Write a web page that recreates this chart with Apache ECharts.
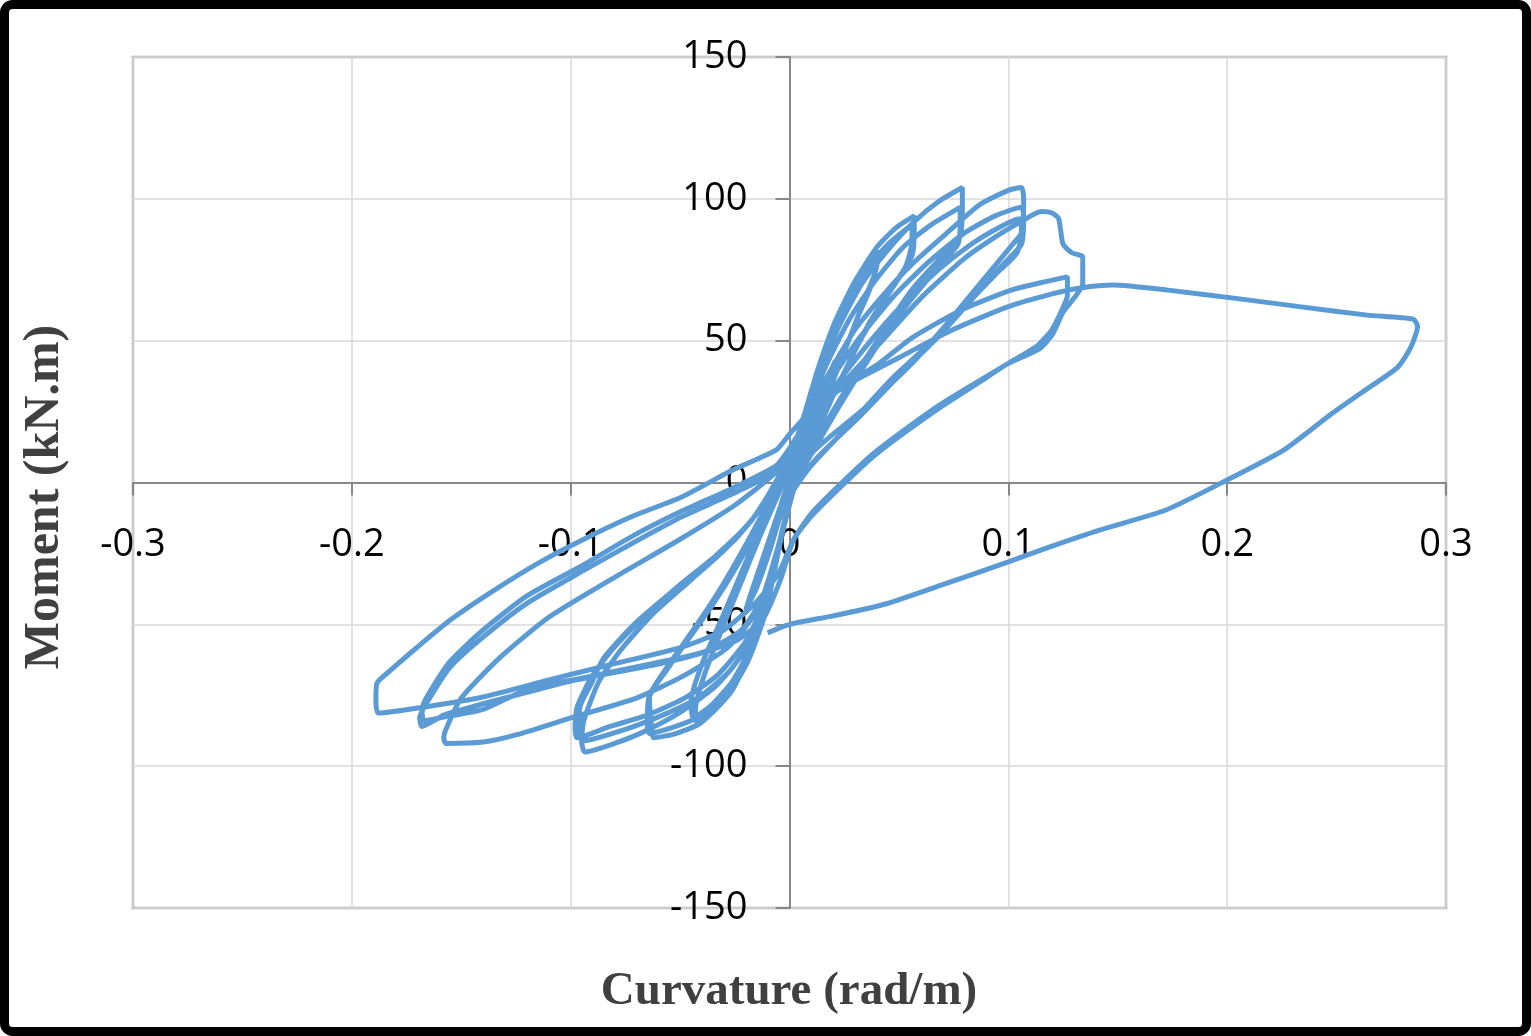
<!DOCTYPE html>
<html>
<head>
<meta charset="utf-8">
<script src="https://cdn.jsdelivr.net/npm/echarts@6/dist/echarts.min.js"></script>
<style>
  html, body { margin: 0; padding: 0; background: #fff; }
  #chart { width: 1531px; height: 1036px; }
</style>
</head>
<body>
<div id="chart"></div>
<script>
var cycle01 = [[0, 0], [0.006, 14], [0.012, 28], [0.018, 38], [0.021, 43], [0.019, 38], [0.012, 24], [0.005, 9], [-0.002, -6], [-0.009, -24], [-0.015, -37], [-0.02, -45], [-0.018, -40], [-0.011, -24], [-0.004, -8], [0, 2]];
var cycle02 = [[0.004, 14], [0.01, 30], [0.017, 48], [0.025, 63], [0.033, 74], [0.04, 82], [0.04, 77], [0.034, 64], [0.025, 46], [0.015, 26], [0.006, 8], [0, -6], [-0.005, -24], [-0.011, -44], [-0.018, -60], [-0.026, -73], [-0.034, -80], [-0.042, -85], [-0.043, -80], [-0.039, -68], [-0.031, -52], [-0.022, -35], [-0.013, -18], [-0.005, -4], [0, 6]];
var cycle03 = [[0.005, 18], [0.012, 36], [0.02, 54], [0.028, 67], [0.034, 75], [0.039, 80], [0.039, 74], [0.031, 58], [0.021, 38], [0.011, 18], [0.003, 2], [-0.003, -16], [-0.009, -38], [-0.017, -57], [-0.026, -70], [-0.035, -78], [-0.044, -83], [-0.045, -77], [-0.04, -64], [-0.031, -48], [-0.021, -30], [-0.011, -12], [-0.003, 2], [0, 8]];
var cycle04 = [[0.006, 22], [0.013, 40], [0.021, 57], [0.03, 71], [0.04, 83], [0.049, 90], [0.057, 94], [0.057, 89], [0.056, 80], [0.048, 70], [0.037, 57], [0.027, 42], [0.017, 26], [0.007, 9], [0, -5], [-0.005, -24], [-0.011, -46], [-0.019, -63], [-0.029, -76], [-0.041, -85], [-0.052, -88.5], [-0.062, -90], [-0.063, -86], [-0.064, -76], [-0.056, -66], [-0.046, -55], [-0.035, -43], [-0.023, -28], [-0.011, -11], [-0.003, 3], [0, 8]];
var cycle05 = [[0.007, 24], [0.015, 43], [0.024, 60], [0.034, 74], [0.045, 84], [0.056, 91], [0.056, 85], [0.053, 76], [0.044, 65], [0.033, 51], [0.022, 34], [0.011, 15], [0.002, 0], [-0.004, -20], [-0.01, -42], [-0.018, -60], [-0.028, -73], [-0.04, -82], [-0.052, -86], [-0.064, -88.5], [-0.065, -84], [-0.064, -75], [-0.055, -64], [-0.044, -52], [-0.032, -38], [-0.02, -22], [-0.009, -6], [0, 8]];
var cycle06 = [[0.006, 20], [0.013, 36], [0.022, 54], [0.033, 70], [0.045, 82], [0.057, 92], [0.068, 99], [0.079, 104], [0.079, 99], [0.078, 87], [0.07, 80], [0.056, 68], [0.041, 51], [0.026, 33], [0.013, 16], [0.003, 2], [-0.003, -16], [-0.009, -38], [-0.017, -55], [-0.028, -67], [-0.042, -76], [-0.058, -82], [-0.075, -87], [-0.094, -91], [-0.096, -88], [-0.096, -80], [-0.09, -70], [-0.085, -62], [-0.071, -50], [-0.056, -40], [-0.04, -30], [-0.026, -21], [-0.014, -10], [-0.004, 2], [0, 8]];
var cycle07 = [[0.007, 22], [0.016, 40], [0.027, 57], [0.039, 71], [0.052, 83], [0.065, 91], [0.078, 97], [0.078, 92], [0.077, 84], [0.068, 76], [0.054, 63], [0.04, 48], [0.026, 31], [0.013, 14], [0.003, 0], [-0.004, -20], [-0.011, -41], [-0.02, -56], [-0.033, -68], [-0.048, -76], [-0.065, -82], [-0.082, -86], [-0.097, -90], [-0.098, -86], [-0.097, -79], [-0.09, -68], [-0.08, -58], [-0.066, -47], [-0.05, -36], [-0.034, -26], [-0.018, -14], [-0.006, 0], [0, 8]];
var cycle08 = [[0.008, 22], [0.017, 37], [0.03, 54], [0.045, 68], [0.056, 77], [0.072, 88], [0.087, 98], [0.1, 103], [0.106, 104], [0.107, 100], [0.106, 88], [0.102, 84], [0.087, 70], [0.072, 56], [0.056, 42], [0.034, 26], [0.011, 11], [0.002, 0], [-0.004, -20], [-0.011, -43], [-0.021, -60], [-0.034, -72], [-0.05, -81], [-0.067, -88], [-0.08, -92], [-0.0935, -95], [-0.095, -91], [-0.094, -84], [-0.087, -70], [-0.076, -58], [-0.062, -46], [-0.046, -35], [-0.03, -24], [-0.015, -11], [-0.005, 2], [0, 9]];
var cycle09 = [[0.008, 20], [0.018, 35], [0.032, 51], [0.048, 66], [0.064, 78], [0.08, 88], [0.094, 94], [0.106, 97], [0.107, 93], [0.106, 84], [0.099, 78], [0.085, 66], [0.07, 53], [0.053, 40], [0.033, 24], [0.013, 9], [0.002, -2], [-0.005, -22], [-0.012, -40], [-0.022, -52], [-0.04, -60], [-0.06, -64], [-0.08, -67], [-0.1, -70], [-0.12, -74], [-0.14, -78], [-0.158, -82], [-0.168, -86], [-0.169, -83], [-0.166, -78], [-0.155, -65], [-0.14, -54.5], [-0.12, -42.6], [-0.094, -31], [-0.072, -21.5], [-0.049, -12], [-0.026, -4], [-0.006, 4], [0, 10]];
var cycle10 = [[0.009, 20], [0.02, 33], [0.035, 48], [0.052, 63], [0.068, 75], [0.083, 84], [0.096, 90], [0.105, 93], [0.106, 89], [0.104, 81], [0.095, 74], [0.08, 62], [0.064, 49], [0.046, 36], [0.027, 20], [0.01, 6], [0.001, -4], [-0.005, -22], [-0.014, -44], [-0.028, -58], [-0.048, -68], [-0.07, -76], [-0.1, -83], [-0.125, -89], [-0.14, -91.5], [-0.157, -92], [-0.158, -90], [-0.157, -87], [-0.15, -76], [-0.132, -61.5], [-0.11, -47.5], [-0.079, -33], [-0.05, -20], [-0.025, -8], [-0.007, 3], [0, 10]];
var cycle11 = [[0.01, 22], [0.022, 33], [0.04, 48], [0.06, 65], [0.08, 79], [0.095, 87], [0.107, 92.5], [0.115, 95.5], [0.12, 95], [0.123, 93], [0.125, 84], [0.129, 81], [0.134, 79.5], [0.134, 70], [0.131, 66], [0.125, 60], [0.12, 52], [0.114, 47], [0.1, 42], [0.09, 37], [0.066, 25], [0.038, 9], [0.011, -11], [0.002, -20], [-0.004, -34], [-0.012, -48], [-0.025, -56], [-0.045, -61], [-0.07, -65], [-0.095, -69], [-0.12, -73], [-0.14, -80], [-0.16, -83], [-0.167, -84], [-0.168, -80], [-0.166, -76], [-0.155, -63], [-0.14, -52], [-0.12, -40], [-0.094, -29], [-0.072, -19], [-0.049, -10], [-0.026, -2], [-0.006, 6], [0, 12]];
var cycle12 = [[0.01, 24], [0.025, 34], [0.041, 42], [0.056, 51], [0.079, 61], [0.102, 68], [0.118, 71], [0.127, 72.5], [0.127, 66], [0.124, 60], [0.12, 54], [0.113, 48], [0.1, 42], [0.087, 36], [0.066, 26], [0.038, 10], [0.011, -10], [0.002, -20], [-0.005, -32], [-0.015, -42], [-0.03, -52], [-0.049, -58], [-0.079, -63.7], [-0.11, -69.6], [-0.14, -75.6], [-0.17, -79.5], [-0.188, -81.3], [-0.189, -76], [-0.1885, -70.7], [-0.182, -66], [-0.17, -58], [-0.155, -48.5], [-0.137, -39], [-0.115, -28.5], [-0.094, -20], [-0.072, -12], [-0.049, -5], [-0.026, 4.4], [-0.006, 11.5], [0, 17]];
var cycleFinal = [[0.012, 27], [0.03, 36], [0.05, 44], [0.075, 54], [0.1, 62], [0.12, 66.5], [0.133, 68.6], [0.148, 69.6], [0.172, 67.9], [0.203, 65], [0.233, 62], [0.264, 59], [0.285, 57.6], [0.287, 55], [0.284, 47.8], [0.278, 40.7], [0.262, 32], [0.248, 24.4], [0.226, 11.5], [0.2, 0.9], [0.172, -9.7], [0.142, -16.7], [0.119, -22.7], [0.1, -28], [0.07, -36], [0.043, -43], [0.02, -47], [0, -50], [-0.01, -53]];

var curve = [].concat(cycle01, cycle02, cycle03, cycle04, cycle05, cycle06, cycle07,
    cycle08, cycle09, cycle10, cycle11, cycle12, cycleFinal);

var gray = '#878787';
var chart = echarts.init(document.getElementById('chart'));
chart.setOption({
    animation: false,
    backgroundColor: '#fff',
    grid: {
        left: 133, right: 85, top: 57, bottom: 128,
        show: true, borderColor: '#A6A6A6', borderWidth: 2.5
    },
    // axes sit on the zero lines, moved in from the grid edges
    xAxis: {
        type: 'value', min: -0.3, max: 0.3, interval: 0.1,
        position: 'bottom', offset: -425.5,
        axisLine: { onZero: false, lineStyle: { color: gray, width: 2 } },
        axisTick: { show: true, length: 13, lineStyle: { color: gray, width: 2 } },
        axisLabel: { margin: 44, color: '#000', fontSize: 38, fontFamily: 'Open Sans' },
        splitLine: { lineStyle: { color: '#D9D9D9', width: 1.5 } }
    },
    yAxis: {
        type: 'value', min: -150, max: 150, interval: 50,
        position: 'left', offset: -656.5,
        axisLine: { onZero: false, lineStyle: { color: gray, width: 2 } },
        axisTick: { show: true, length: 14, lineStyle: { color: gray, width: 2 } },
        axisLabel: { margin: 42, color: '#000', fontSize: 38, fontFamily: 'Open Sans' },
        splitLine: { lineStyle: { color: '#D9D9D9', width: 1.5 } }
    },
    series: [{
        type: 'line',
        data: curve,
        showSymbol: false,
        smooth: 0.2,
        lineStyle: { color: '#5B9BD5', width: 5 }
    }],
    graphic: [
        {
            type: 'rect', silent: true,
            shape: { x: 4.5, y: 4.5, width: 1522, height: 1027, r: 8 },
            style: { fill: 'none', stroke: '#000', lineWidth: 9 }
        },
        {
            type: 'text', x: 789, y: 968,
            style: {
                text: 'Curvature (rad/m)', font: 'bold 47px "Liberation Serif"', fill: '#404040',
                align: 'center', verticalAlign: 'top'
            }
        },
        {
            type: 'text', x: 20, y: 497, rotation: Math.PI / 2,
            style: {
                text: 'Moment (kN.m)', font: 'bold 50px "Liberation Serif"', fill: '#404040',
                align: 'center', verticalAlign: 'top'
            }
        }
    ]
});
</script>
</body>
</html>
